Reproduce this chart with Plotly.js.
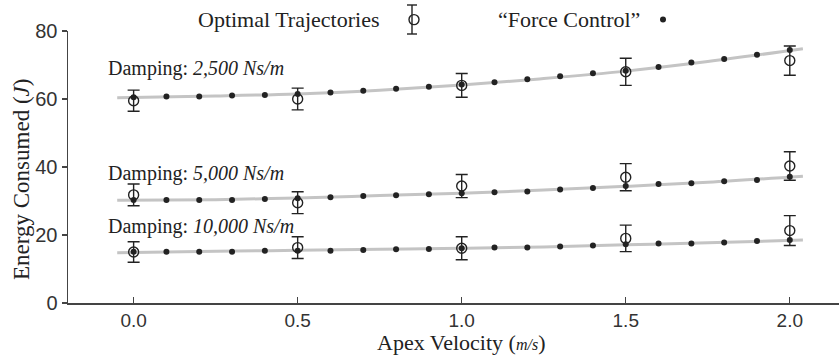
<!DOCTYPE html>
<html><head><meta charset="utf-8">
<script src="https://cdn.plot.ly/plotly-3.0.1.min.js"></script>
<style>html,body{margin:0;padding:0;background:#fff;}#chart{width:839px;height:357px;}</style>
</head><body><div id="chart"></div>
<script>
const xOpt = [0, 0.5, 1.0, 1.5, 2.0];
const opt2500 = [59.5, 60.0, 64.0, 68.0, 71.3];
const err2500 = [3.1, 3.2, 3.5, 4.0, 4.3];
const opt5000 = [31.8, 29.5, 34.4, 37.0, 40.3];
const err5000 = [3.2, 3.2, 3.4, 4.0, 4.2];
const opt10000 = [15.0, 16.3, 16.1, 19.0, 21.3];
const err10000 = [3.0, 3.2, 3.4, 3.9, 4.4];

const xFC = [0, 0.1, 0.2, 0.3, 0.4, 0.5, 0.6, 0.7, 0.8, 0.9, 1.0, 1.1, 1.2, 1.3, 1.4, 1.5, 1.6, 1.7, 1.8, 1.9, 2.0];
const fc2500 = [60.5, 60.7, 60.7, 61.0, 61.2, 61.5, 61.9, 62.4, 63.0, 63.6, 64.3, 64.9, 65.8, 66.7, 67.6, 68.3, 69.4, 70.7, 71.8, 73.0, 74.4];
const fc5000 = [30.3, 30.3, 30.3, 30.3, 30.6, 30.8, 31.1, 31.5, 31.7, 32.0, 32.3, 32.6, 32.8, 33.4, 33.8, 34.4, 35.0, 35.2, 35.8, 36.2, 37.1];
const fc10000 = [15.1, 15.1, 15.1, 15.1, 15.4, 15.4, 15.4, 15.6, 15.8, 15.9, 16.1, 16.3, 16.3, 16.6, 16.9, 17.3, 17.5, 17.5, 17.8, 18.2, 18.5];

const xFit = [-0.05, 0.25, 0.5, 0.75, 1.0, 1.25, 1.5, 1.75, 2.04];
const fit2500 = [60.4, 60.9, 61.5, 62.6, 64.1, 66.0, 68.2, 71.0, 74.8];
const fit5000 = [30.2, 30.4, 30.9, 31.6, 32.3, 33.2, 34.3, 35.5, 37.3];
const fit10000 = [14.8, 15.2, 15.5, 15.8, 16.1, 16.5, 17.1, 17.7, 18.5];

const xTicks = [0, 0.5, 1.0, 1.5, 2.0];
const xTickText = ['0.0', '0.5', '1.0', '1.5', '2.0'];
const yTicks = [0, 20, 40, 60, 80];

const dampLabels = ['Damping: <i>2,500 Ns/m</i>', 'Damping: <i>5,000 Ns/m</i>', 'Damping: <i>10,000 Ns/m</i>'];
const dampLabelY = [69.1, 38.2, 22.4];
const legendLabels = ['Optimal Trajectories', '\u201CForce Control\u201D'];
const xTitle = 'Apex Velocity (<i><span style="font-size:16px">m/s</span></i>)';
const yTitle = 'Energy Consumed (<i>J</i>)';

const ink = '#222';
const serif = 'Liberation Serif';
const traces = [];
[fit2500, fit5000, fit10000].forEach(f => traces.push({
  x: xFit, y: f, mode: 'lines', line: {color: '#c4c4c4', width: 3, shape: 'spline'},
  showlegend: false, hoverinfo: 'skip'
}));
[fc2500, fc5000, fc10000].forEach((f, i) => traces.push({
  x: xFC, y: f, mode: 'markers', name: ' ',
  marker: {color: ink, size: 6},
  showlegend: i === 0, legend: 'legend2'
}));
[[opt2500, err2500], [opt5000, err5000], [opt10000, err10000]].forEach((d, i) => traces.push({
  x: xOpt, y: d[0], mode: 'markers', name: ' ',
  marker: {symbol: 'circle-open', color: ink, size: 10, line: {width: 1.4, color: ink}},
  error_y: {type: 'data', array: d[1], visible: true, color: ink, thickness: 1.4, width: 6},
  showlegend: i === 0, legend: 'legend'
}));

const W = 839, H = 357, ml = 68, mr = 0, mt = 31, mb = 54;
const pw = W - ml - mr, ph = H - mt - mb;
const px = v => (v - ml) / pw;          // pixel -> paper x
const py = v => (H - mb - v) / ph;      // pixel -> paper y

const annotations = dampLabels.map((t, i) => ({
  x: -0.085, y: dampLabelY[i], xref: 'x', yref: 'y', text: t, showarrow: false,
  xanchor: 'left', yanchor: 'middle', font: {family: serif, size: 20, color: ink}
}));
[[381, 20, legendLabels[0]], [642, 20, legendLabels[1]]].forEach(p => annotations.push({
  x: px(p[0]), y: py(p[1]), xref: 'paper', yref: 'paper', text: p[2], showarrow: false,
  xanchor: 'right', yanchor: 'middle', font: {family: serif, size: 22, color: ink}
}));
annotations.push({x: px(461), y: py(342), xref: 'paper', yref: 'paper', text: xTitle, showarrow: false,
  xanchor: 'center', yanchor: 'middle', font: {family: serif, size: 22, color: ink}});
annotations.push({x: px(21), y: py(180), xref: 'paper', yref: 'paper', text: yTitle, showarrow: false,
  textangle: -90, xanchor: 'center', yanchor: 'middle', font: {family: serif, size: 23, color: ink}});

// legend key error bar for "Optimal Trajectories"
const ekx = 412, ekTop = 5, ekBot = 34, ekHalf = 5;
const shapes = [
  {type: 'line', xref: 'paper', yref: 'paper', x0: px(ekx), x1: px(ekx), y0: py(ekTop), y1: py(ekBot), line: {color: ink, width: 1.4}},
  {type: 'line', xref: 'paper', yref: 'paper', x0: px(ekx - ekHalf), x1: px(ekx + ekHalf), y0: py(ekTop), y1: py(ekTop), line: {color: ink, width: 1.4}},
  {type: 'line', xref: 'paper', yref: 'paper', x0: px(ekx - ekHalf), x1: px(ekx + ekHalf), y0: py(ekBot), y1: py(ekBot), line: {color: ink, width: 1.4}}
];

const layout = {
  width: W, height: H,
  margin: {l: ml, r: mr, t: mt, b: mb, autoexpand: false},
  paper_bgcolor: '#fff', plot_bgcolor: '#fff',
  font: {family: 'Liberation Sans', color: ink},
  xaxis: {
    range: [-0.2, 2.15], tickvals: xTicks, ticktext: xTickText,
    ticks: 'inside', ticklen: 6, tickwidth: 1.3, tickcolor: '#444',
    showline: true, linecolor: '#444', linewidth: 1.5, showgrid: false, zeroline: false,
    tickfont: {family: 'Liberation Sans', size: 19, color: '#333'}
  },
  yaxis: {
    range: [0, 80], tickvals: yTicks,
    ticks: 'outside', ticklen: 5, tickwidth: 1.3, tickcolor: '#444',
    showline: true, linecolor: '#444', linewidth: 1.5, showgrid: false, zeroline: false,
    tickfont: {family: 'Liberation Sans', size: 20, color: '#333'}
  },
  legend: {x: 394 / W, y: 1 - 20 / H, xref: 'container', yref: 'container', xanchor: 'left', yanchor: 'middle', bgcolor: 'rgba(0,0,0,0)', font: {size: 14}},
  legend2: {x: 643 / W, y: 1 - 20 / H, xref: 'container', yref: 'container', xanchor: 'left', yanchor: 'middle', bgcolor: 'rgba(0,0,0,0)', font: {size: 14}},
  annotations: annotations,
  shapes: shapes,
  showlegend: true
};
Plotly.newPlot('chart', traces, layout, {displayModeBar: false, staticPlot: true});
</script></body></html>
